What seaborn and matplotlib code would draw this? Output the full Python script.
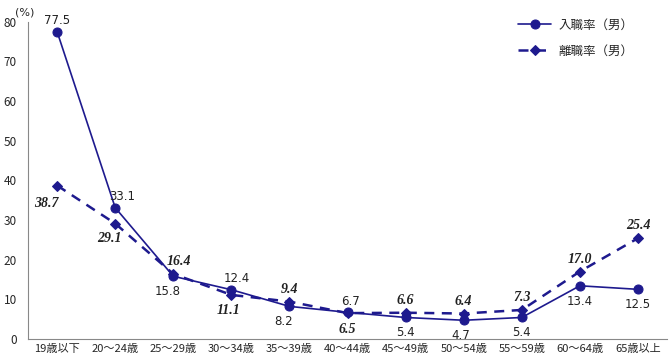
import numpy as np
import pandas as pd
import seaborn as sns
import matplotlib.pyplot as plt

ages = ["19歳以下", "20～24歳", "25～29歳", "30～34歳", "35～39歳", "40～44歳",
        "45～49歳", "50～54歳", "55～59歳", "60～64歳", "65歳以上"]
entry = [77.5, 33.1, 15.8, 12.4, 8.2, 6.7, 5.4, 4.7, 5.4, 13.4, 12.5]
leave = [38.7, 29.1, 16.4, 11.1, 9.4, 6.5, 6.6, 6.4, 7.3, 17.0, 25.4]

# label offsets in points (dx, dy)
entry_off = [(0, 8), (5, 8), (-4, -11), (4, 8), (-4, -11), (2, 8),
             (0, -11), (-2, -11), (0, -11), (0, -11), (0, -11)]
leave_off = [(-8, -13), (-4, -11), (4, 9), (-2, -11), (0, 9), (0, -12),
             (0, 9), (0, 9), (0, 9), (0, 9), (0, 9)]

sns.set_style("white")
plt.rcParams['font.family'] = ['Noto Sans CJK JP', 'DejaVu Sans']

color = "#1E1A8E"
df = pd.DataFrame({"age": ages, "entry": entry, "leave": leave})
x = np.arange(len(ages))

fig = plt.figure(figsize=(6.69, 3.64), dpi=100)
ax = fig.add_axes([0.042, 0.069, 0.955, 0.871])

sns.lineplot(x=x, y=df["entry"], ax=ax, color=color, lw=1.2, marker="o",
             markersize=6.5, markeredgecolor=color, label="入職率（男）")
sns.lineplot(x=x, y=df["leave"], ax=ax, color=color, lw=1.8, marker="D",
             markersize=5, markeredgecolor=color, label="離職率（男）",
             linestyle=(0, (4, 3)))

for i in range(len(ages)):
    ax.annotate(f"{entry[i]:.1f}", (x[i], entry[i]), xytext=entry_off[i],
                textcoords="offset points", ha="center", va="center",
                fontsize=8.5, family="DejaVu Sans", color="#222222")
    ax.annotate(f"{leave[i]:.1f}", (x[i], leave[i]), xytext=leave_off[i],
                textcoords="offset points", ha="center", va="center",
                fontsize=10, family="Liberation Serif", fontweight="bold",
                fontstyle="italic", color="#222222")

ax.set_xlim(-0.5, len(ages) - 0.5)
ax.set_ylim(0, 80)
ax.set_yticks(range(0, 81, 10))
ax.set_xticks(x)
ax.set_xticklabels(ages, fontsize=8)
ax.tick_params(axis="y", labelsize=8.5, direction="in", length=3, pad=8)
ax.tick_params(axis="x", direction="in", length=3, pad=4)
for s in ["top", "right"]:
    ax.spines[s].set_visible(False)
for s in ["left", "bottom"]:
    ax.spines[s].set_color("#888888")
ax.set_xlabel("")
ax.set_ylabel("")
ax.text(-0.02, 1.02, "(%)", transform=ax.transAxes, fontsize=8,
        family="DejaVu Sans")

leg = ax.legend(loc="upper right", bbox_to_anchor=(0.965, 1.045), frameon=False,
                fontsize=9, handlelength=2.6, handletextpad=0.6,
                labelspacing=1.0)

fig.savefig("out.png", dpi=100)
